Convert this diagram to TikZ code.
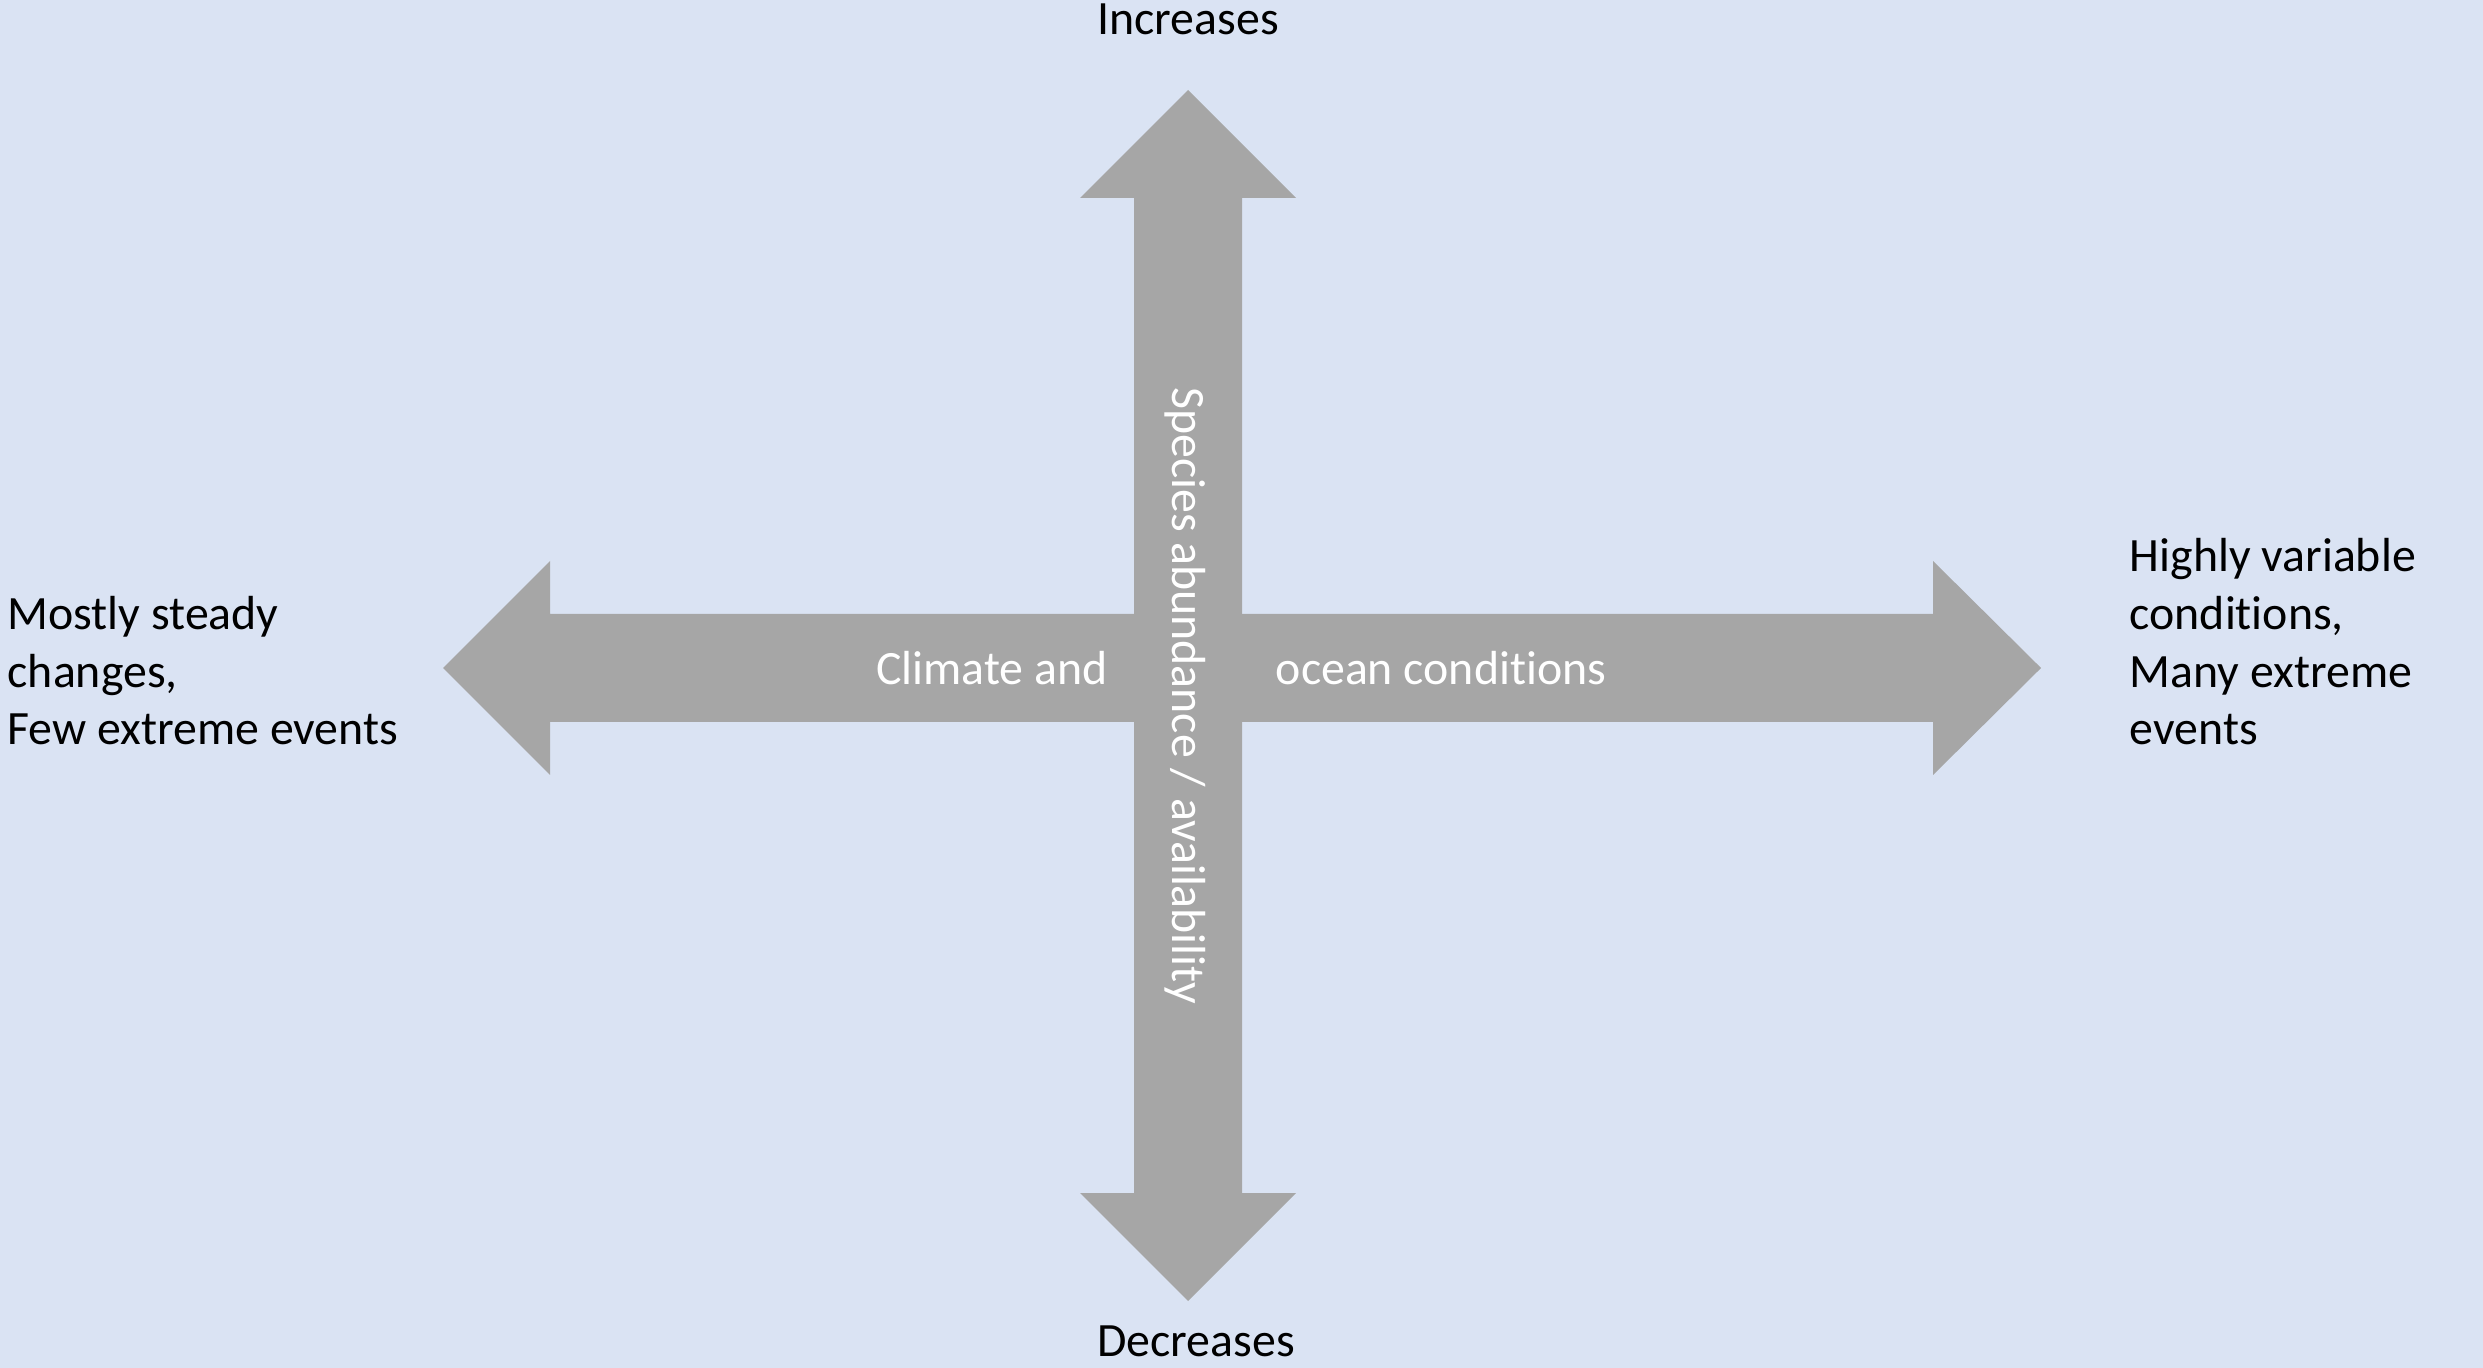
\documentclass[tikz,border=0pt]{standalone}
\usepackage{fontspec}
\setmainfont{Carlito}[Ligatures={NoCommon,NoRare,NoContextual}]
\definecolor{bgblue}{HTML}{DAE3F3}
\definecolor{arrowgray}{HTML}{A6A6A6}

\begin{document}
\begin{tikzpicture}[x=0.01cm,y=-0.01cm,
  axislabel/.style={inner sep=0pt, font=\fontsize{13.6pt}{16.4pt}\selectfont, align=left},
  arrowlabel/.style={axislabel, text=white}]
  \fill[bgblue] (0,0) rectangle (2483,1368);
  \useasboundingbox (0,0) rectangle (2483,1368);
  % the two double arrows
  \def\vertarrow{(1188,90) -- (1296,198) -- (1242,198) -- (1242,1193) -- (1296,1193) -- (1188,1301) -- (1080,1193) -- (1134,1193) -- (1134,198) -- (1080,198) -- cycle};
  \def\horarrow{(443,668) -- (550,561) -- (550,614) -- (1933,614) -- (1933,561) -- (2041,668) -- (1933,775) -- (1933,722) -- (550,722) -- (550,775) -- cycle};
  \fill[arrowgray] \vertarrow;
  \fill[arrowgray] \horarrow;

  \node[axislabel, anchor=base] (inc) at (1188,35) {Increases};
  \node[axislabel, anchor=base] (dec) at (1196,1356) {Decreases};
  % base of a multi-line node is its last line
  \node[axislabel, anchor=base west] (steady) at (7,745) {Mostly steady\\changes,\\Few extreme events};
  \node[axislabel, anchor=base west] (variable) at (2129,745) {Highly variable\\conditions,\\Many extreme\\events};
  \node[arrowlabel, anchor=base] (climate) at (992,685) {Climate and};
  \node[arrowlabel, anchor=base] (ocean) at (1441,685) {ocean conditions};
  \node[arrowlabel, anchor=base, rotate=-90] (species) at (1172,696) {Species abundance / availability};
\end{tikzpicture}
\end{document}
